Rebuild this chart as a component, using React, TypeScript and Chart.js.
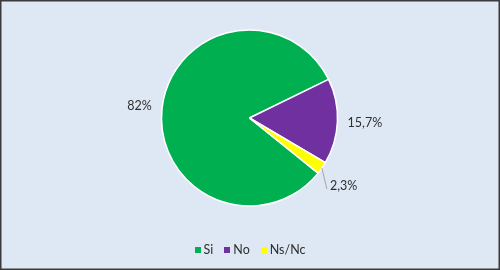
import React, { useEffect, useRef } from "react";
import { Chart, registerables } from "chart.js";

Chart.register(...registerables);

const categories = ["Si", "No", "Ns/Nc"];
const values = [82, 15.7, 2.3];
const valueLabels = ["82%", "15,7%", "2,3%"];
const colors = ["#00b050", "#7030a0", "#ffff00"];

const FONT = "Lato, 'Open Sans', sans-serif";
const TEXT = "#2e2e2e";

const bgPlugin = {
  id: "bgPlugin",
  beforeDraw(chart: any) {
    const { ctx, width, height } = chart;
    ctx.save();
    ctx.fillStyle = "#dee8f4";
    ctx.fillRect(0, 0, width, height);
    ctx.strokeStyle = "#3a3a3a";
    ctx.lineWidth = 1.5;
    ctx.strokeRect(0.75, 0.75, width - 1.5, height - 1.5);
    ctx.restore();
  },
};

const legendPlugin = {
  id: "customLegend",
  afterDraw(chart: any) {
    const { ctx, width } = chart;
    const labels: string[] = chart.data.labels;
    const bg: string[] = chart.data.datasets[0].backgroundColor;
    const box = 6;
    const gap = 3;
    const spacing = 11;
    const cy = 249.5;
    ctx.save();
    ctx.font = `12.5px ${FONT}`;
    const widths = labels.map((l) => ctx.measureText(l).width);
    const total =
      widths.reduce((a, w) => a + box + gap + w, 0) + spacing * (labels.length - 1);
    let x = (width - total) / 2;
    ctx.textAlign = "left";
    ctx.textBaseline = "middle";
    labels.forEach((l, i) => {
      ctx.fillStyle = bg[i];
      ctx.fillRect(Math.round(x), Math.round(cy - box / 2), box, box);
      x += box + gap;
      ctx.fillStyle = TEXT;
      ctx.fillText(l, x, cy);
      x += widths[i] + spacing;
    });
    ctx.restore();
  },
};

const labelPlugin = {
  id: "labelPlugin",
  afterDatasetsDraw(chart: any) {
    const { ctx } = chart;
    const meta = chart.getDatasetMeta(0);
    const total = values.reduce((a, b) => a + b, 0);
    ctx.save();
    ctx.font = `12.5px ${FONT}`;
    ctx.fillStyle = TEXT;
    meta.data.forEach((arc: any, i: number) => {
      const { x, y, startAngle, endAngle, outerRadius } = arc.getProps(
        ["x", "y", "startAngle", "endAngle", "outerRadius"],
        true
      );
      const mid = (startAngle + endAngle) / 2;
      const dx = Math.cos(mid);
      const dy = Math.sin(mid);
      const text = valueLabels[i];
      const w = ctx.measureText(text).width;
      const h = 10;
      if (values[i] / total < 0.05) {
        const ex = x + dx * outerRadius;
        const ey = y + dy * outerRadius;
        const lx = ex + 5;
        const ly = ey + 21;
        ctx.strokeStyle = "#a6a6a6";
        ctx.lineWidth = 1;
        ctx.beginPath();
        ctx.moveTo(ex, ey);
        ctx.lineTo(lx, ly);
        ctx.stroke();
        ctx.textAlign = "left";
        ctx.textBaseline = "middle";
        ctx.fillText(text, lx + 3, ly - 3.5);
      } else {
        const d = outerRadius + 10 + Math.abs(dx) * (w / 2) + Math.abs(dy) * (h / 2);
        ctx.textAlign = "center";
        ctx.textBaseline = "middle";
        ctx.fillText(text, x + dx * d, y + dy * d);
      }
    });
    ctx.restore();
  },
};

export default function App() {
  const ref = useRef<HTMLCanvasElement>(null);
  useEffect(() => {
    document.body.style.margin = "0";
    const chart = new Chart(ref.current!, {
      type: "pie",
      data: {
        labels: categories,
        datasets: [
          {
            data: values,
            backgroundColor: colors,
            borderColor: "#ffffff",
            borderWidth: 1.5,
          },
        ],
      },
      options: {
        responsive: false,
        animation: false,
        rotation: 128.8,
        radius: 88,
        layout: { padding: { top: 0, bottom: 34, left: 0, right: 1 } },
        plugins: {
          legend: { display: false },
          tooltip: { enabled: false },
        },
      },
      plugins: [bgPlugin, labelPlugin, legendPlugin],
    });
    return () => chart.destroy();
  }, []);
  return (
    <div style={{ width: 500, height: 270 }}>
      <canvas ref={ref} width={500} height={270} />
    </div>
  );
}
